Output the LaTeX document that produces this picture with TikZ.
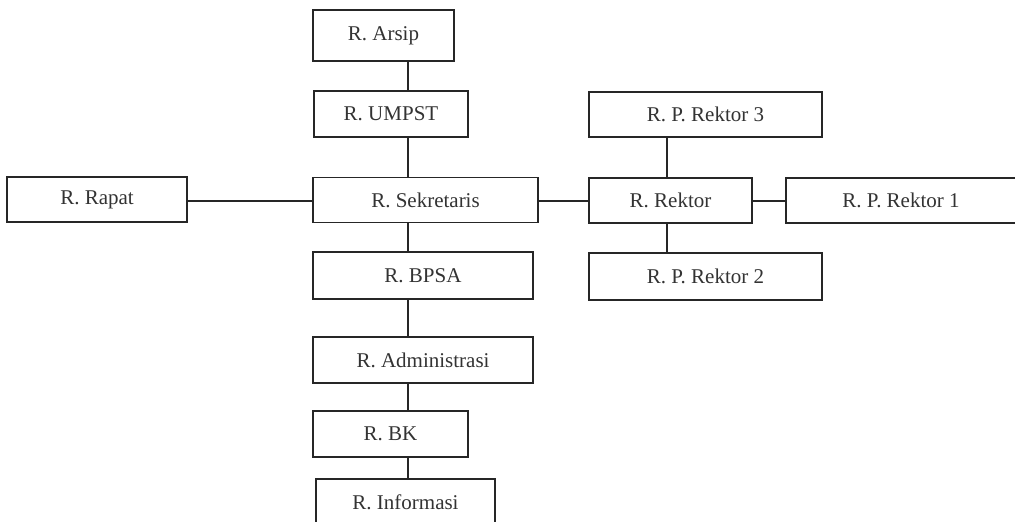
\documentclass[tikz,border=0pt]{standalone}
\usepackage{fontspec}
\setmainfont{Liberation Serif}
\begin{document}
\begin{tikzpicture}[x=1pt,y=-1pt,
  room/.style={draw=black!85, line width=1.6pt, rectangle, inner sep=0pt,
    fill=white, text=black!80, font=\fontsize{21}{25}\selectfont},
  link/.style={draw=black!85, line width=1.6pt}]
\useasboundingbox (0,0) rectangle (1015,522);
\clip (0,0) rectangle (1015,522);
\fill[white] (0,0) rectangle (1015,522);

% guide lines for the connectors
\coordinate (lspine) at (408,0);
\coordinate (rspine) at (667,0);
\coordinate (hbar) at (0,201);

% left column
\node[room, minimum width=141pt, minimum height=51pt] (arsip) at (383.5,35.5) {R. Arsip};
\node[room, minimum width=154pt, minimum height=46pt] (umpst) at (391,114) {R. UMPST};
\node[room, minimum width=225pt, minimum height=45pt] (sekr) at (425.5,200) {R. Sekretaris};
\node[room, minimum width=220pt, minimum height=47pt] (bpsa) at (423,275.5) {R. BPSA};
\node[room, minimum width=220pt, minimum height=46pt] (admin) at (423,360) {R. Administrasi};
\node[room, minimum width=155pt, minimum height=46pt] (bk) at (390.5,434) {R. BK};
\node[room, minimum width=179pt, minimum height=46pt] (info) at (405.5,502) {R. Informasi};

% meeting room
\node[room, minimum width=180pt, minimum height=45pt] (rapat) at (97,199.5) {R. Rapat};

% rector group
\node[room, minimum width=233pt, minimum height=45pt] (pr3) at (705.5,114.5) {R. P. Rektor 3};
\node[room, minimum width=163pt, minimum height=45pt] (rektor) at (670.5,200.5) {R. Rektor};
\node[room, minimum width=230pt, minimum height=45pt] (pr1) at (901,200.5) {R. P. Rektor 1};
\node[room, minimum width=233pt, minimum height=47pt] (pr2) at (705.5,276.5) {R. P. Rektor 2};

% vertical links, left column
\draw[link] (arsip.south -| lspine) -- (umpst.north -| lspine);
\draw[link] (umpst.south -| lspine) -- (sekr.north -| lspine);
\draw[link] (sekr.south -| lspine) -- (bpsa.north -| lspine);
\draw[link] (bpsa.south -| lspine) -- (admin.north -| lspine);
\draw[link] (admin.south -| lspine) -- (bk.north -| lspine);
\draw[link] (bk.south -| lspine) -- (info.north -| lspine);

% vertical links, rector group
\draw[link] (pr3.south -| rspine) -- (rektor.north -| rspine);
\draw[link] (rektor.south -| rspine) -- (pr2.north -| rspine);

% horizontal links
\draw[link] (rapat.east |- hbar) -- (sekr.west |- hbar);
\draw[link] (sekr.east |- hbar) -- (rektor.west |- hbar);
\draw[link] (rektor.east |- hbar) -- (pr1.west |- hbar);
\end{tikzpicture}
\end{document}
